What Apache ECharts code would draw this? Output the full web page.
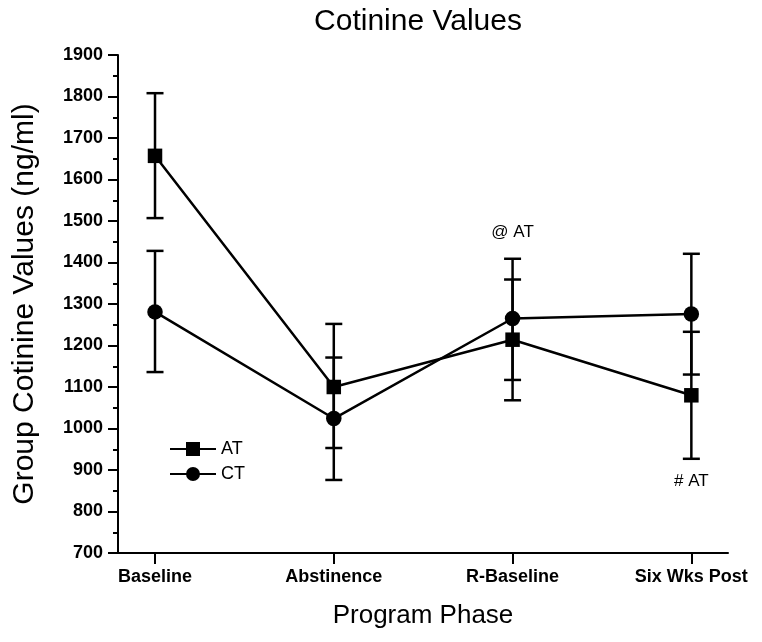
<!DOCTYPE html>
<html>
<head>
<meta charset="utf-8">
<script src="https://cdn.jsdelivr.net/npm/echarts@6/dist/echarts.min.js"></script>
<style>html,body{margin:0;padding:0;background:#fff}#c{width:762px;height:642px}</style>
</head>
<body>
<div id="c"></div>
<script>
var categories = ['Baseline', 'Abstinence', 'R-Baseline', 'Six Wks Post'];
var atMean  = [1657, 1100, 1214, 1080];
var atUpper = [1808, 1252, 1359, 1233];
var atLower = [1507, 953, 1068, 927];
var ctMean  = [1281, 1024, 1265, 1276];
var ctUpper = [1428, 1171, 1409, 1421];
var ctLower = [1136, 876, 1117, 1130];
var annotX = [2, 3];
var annotY = [1472, 872];
var annotText = ['@ AT', '# AT'];

var FONT = 'Liberation Sans, Arial, Helvetica, sans-serif';
var idx = categories.map(function (c, i) { return i; });

function pts(arr) { return arr.map(function (v, i) { return [i, v]; }); }
function bars(lo, hi) { return lo.map(function (v, i) { return [i, v, hi[i]]; }); }

function errRender(params, api) {
  var x = api.value(0);
  var p1 = api.coord([x, api.value(1)]);
  var p2 = api.coord([x, api.value(2)]);
  var hw = 8.5;
  var st = { stroke: '#000', lineWidth: 2.5 };
  return {
    type: 'group',
    children: [
      { type: 'line', shape: { x1: p1[0], y1: p1[1], x2: p2[0], y2: p2[1] }, style: st },
      { type: 'line', shape: { x1: p1[0] - hw, y1: p1[1], x2: p1[0] + hw, y2: p1[1] }, style: st },
      { type: 'line', shape: { x1: p2[0] - hw, y1: p2[1], x2: p2[0] + hw, y2: p2[1] }, style: st }
    ]
  };
}

var chart = echarts.init(document.getElementById('c'), null, { renderer: 'canvas' });
chart.setOption({
  backgroundColor: '#fff',
  animation: false,
  title: {
    text: 'Cotinine Values',
    left: 413, top: 2, textAlign: 'center',
    textStyle: { fontFamily: FONT, fontSize: 30, fontWeight: 'normal', color: '#000' }
  },
  legend: {
    orient: 'vertical',
    left: 164, top: 435,
    itemWidth: 46, itemHeight: 17.5, itemGap: 7,
    data: ['AT', 'CT'],
    textStyle: { fontFamily: FONT, fontSize: 18, color: '#000' }
  },
  grid: { left: 118, right: 34, top: 55, bottom: 89 },
  xAxis: {
    type: 'value',
    min: -0.207, max: 3.205,
    name: 'Program Phase',
    nameLocation: 'middle', nameGap: 50,
    nameTextStyle: { fontFamily: FONT, fontSize: 26, color: '#000' },
    axisLine: { show: true, onZero: false, lineStyle: { color: '#000', width: 2 } },
    axisTick: { show: true, length: 11, customValues: idx, lineStyle: { color: '#000', width: 2 } },
    axisLabel: {
      customValues: idx, margin: 15,
      fontFamily: FONT, fontSize: 18, fontWeight: 'bold', color: '#000',
      formatter: function (v) { return categories[Math.round(v)] || ''; }
    },
    splitLine: { show: false }
  },
  yAxis: {
    type: 'value',
    min: 700, max: 1900, interval: 100,
    name: 'Group Cotinine Values (ng/ml)',
    nameLocation: 'middle', nameGap: 78,
    nameTextStyle: { fontFamily: FONT, fontSize: 30, color: '#000' },
    axisLine: { show: true, onZero: false, lineStyle: { color: '#000', width: 2 } },
    axisTick: { show: true, length: 10, lineStyle: { color: '#000', width: 2 } },
    minorTick: { show: true, splitNumber: 2, length: 5, lineStyle: { color: '#000', width: 2 } },
    axisLabel: {
      margin: 15, fontFamily: FONT, fontSize: 18, fontWeight: 'bold', color: '#000',
      formatter: function (v) { return String(v); }
    },
    splitLine: { show: false }
  },
  series: [
    {
      type: 'custom', name: 'AT err', renderItem: errRender,
      data: bars(atLower, atUpper), z: 1, silent: true
    },
    {
      type: 'custom', name: 'CT err', renderItem: errRender,
      data: bars(ctLower, ctUpper), z: 1, silent: true
    },
    {
      type: 'line', name: 'AT', data: pts(atMean),
      symbol: 'rect', symbolSize: 14.5, showAllSymbol: true,
      lineStyle: { color: '#000', width: 2.5 },
      itemStyle: { color: '#000' }, z: 3
    },
    {
      type: 'line', name: 'CT', data: pts(ctMean),
      symbol: 'circle', symbolSize: 15.5, showAllSymbol: true,
      lineStyle: { color: '#000', width: 2.5 },
      itemStyle: { color: '#000' }, z: 3
    },
    {
      type: 'scatter', name: 'notes',
      data: annotX.map(function (x, i) { return [x, annotY[i], annotText[i]]; }),
      symbolSize: 0, silent: true,
      itemStyle: { color: '#000', opacity: 1 },
      label: {
        show: true, position: 'inside',
        formatter: function (p) { return p.data[2]; },
        fontFamily: FONT, fontSize: 17, color: '#000', opacity: 1
      }
    }
  ]
});
</script>
</body>
</html>
